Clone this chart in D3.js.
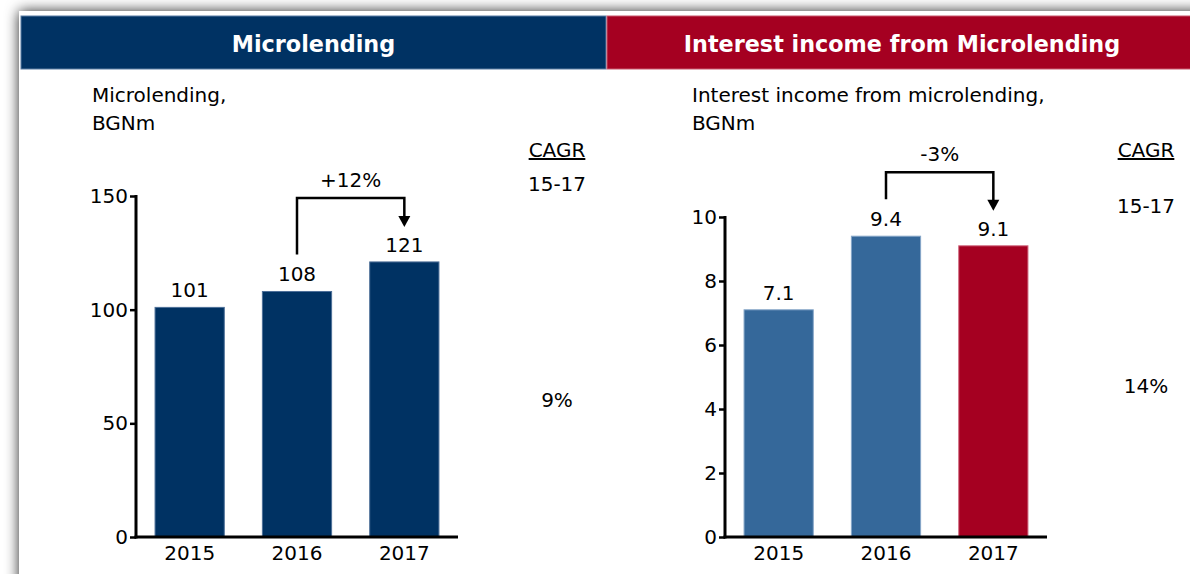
<!DOCTYPE html>
<html>
<head>
<meta charset="utf-8">
<script src="https://cdn.jsdelivr.net/npm/d3@7"></script>
<style>
  html, body { margin: 0; padding: 0; background: #ffffff; }
  svg { display: block; font-family: "DejaVu Sans", Verdana, sans-serif; }
</style>
</head>
<body>
<svg id="chart" width="1190" height="574"></svg>
<script>
// ---- data ----
const categories = ["2015", "2016", "2017"];
const microlending = [101, 108, 121];
const interestIncome = [7.1, 9.4, 9.1];
const microTicks = [0, 50, 100, 150];
const incomeTicks = [0, 2, 4, 6, 8, 10];
const panelTitles = ["Microlending", "Interest income from Microlending"];
const microSubtitle = ["Microlending,", "BGNm"];
const incomeSubtitle = ["Interest income from microlending,", "BGNm"];
const changeLabels = ["+12%", "-3%"];
const cagrHeader = "CAGR";
const cagrPeriod = "15-17";
const cagrValues = ["9%", "14%"];

// ---- colours ----
const darkBlue = "#003263";
const midBlue = "#35689a";
const red = "#a50021";

const svg = d3.select("#chart");
const defs = svg.append("defs");
const f = defs.append("filter").attr("id", "shadow")
  .attr("x", "-10%").attr("y", "-10%").attr("width", "120%").attr("height", "120%");
f.append("feDropShadow").attr("dx", 0).attr("dy", 0)
  .attr("stdDeviation", 7).attr("flood-color", "#000").attr("flood-opacity", 0.85);

// background frame with shadow
svg.append("rect").attr("x", 0).attr("y", 0).attr("width", 1190).attr("height", 574).attr("fill", "#fff");
svg.append("rect").attr("x", 19).attr("y", 11).attr("width", 1240).attr("height", 640)
  .attr("fill", "#fff").attr("filter", "url(#shadow)");

// header bars
const headers = [
  { x: 21, w: 585, color: darkBlue, stroke: "#5a7ca3", title: panelTitles[0] },
  { x: 607, w: 590, color: red, stroke: "#c8566c", title: panelTitles[1] }
];
headers.forEach(h => {
  svg.append("rect").attr("x", h.x).attr("y", 16).attr("width", h.w).attr("height", 53)
    .attr("fill", h.color).attr("stroke", h.stroke).attr("stroke-width", 1);
  svg.append("text").attr("x", h.x + h.w / 2).attr("y", 52)
    .attr("text-anchor", "middle").attr("fill", "#fff")
    .attr("font-weight", "bold").attr("font-size", 22.3).text(h.title);
});

function drawChart(cfg) {
  const g = svg.append("g");
  // subtitle
  cfg.subtitle.forEach((s, i) => {
    g.append("text").attr("x", cfg.subX).attr("y", 102 + i * 27.5)
      .attr("font-size", 20).attr("fill", "#000").text(s);
  });

  const x = d3.scaleBand().domain(categories).range([cfg.x0, cfg.x1])
    .paddingInner(0.355).paddingOuter(0.1775);
  const y = d3.scaleLinear().domain([0, cfg.max]).range([cfg.yBottom, cfg.yTop]);

  // bars
  g.selectAll("rect.bar").data(cfg.values).enter().append("rect")
    .attr("class", "bar")
    .attr("x", (d, i) => x(categories[i]))
    .attr("y", d => y(d))
    .attr("width", x.bandwidth())
    .attr("height", d => y(0) - y(d))
    .attr("fill", (d, i) => cfg.colors[i])
    .attr("stroke", (d, i) => cfg.strokes[i])
    .attr("stroke-width", 1);

  // value labels
  g.selectAll("text.val").data(cfg.values).enter().append("text")
    .attr("class", "val")
    .attr("x", (d, i) => x(categories[i]) + x.bandwidth() / 2)
    .attr("y", d => y(d) - 10)
    .attr("text-anchor", "middle").attr("font-size", 20).attr("fill", "#000")
    .text(d => cfg.fmt(d));

  // y axis
  const yAxis = d3.axisLeft(y).tickValues(cfg.ticks).tickSize(6).tickPadding(2)
    .tickFormat(d3.format("d"));
  const ya = g.append("g").attr("transform", `translate(${cfg.x0},0)`).call(yAxis);
  ya.select(".domain").remove();
  ya.selectAll(".tick line").attr("stroke", "#000").attr("stroke-width", 2.5);
  ya.selectAll(".tick text").attr("font-size", 20).attr("fill", "#000")
    .attr("font-family", "DejaVu Sans, Verdana, sans-serif");
  g.append("line").attr("x1", cfg.x0).attr("x2", cfg.x0)
    .attr("y1", cfg.yTop - 1).attr("y2", cfg.yBottom + 1.5)
    .attr("stroke", "#000").attr("stroke-width", 3);

  // x axis
  const xAxis = d3.axisBottom(x).tickSize(0).tickPadding(9);
  const xa = g.append("g").attr("transform", `translate(0,${cfg.yBottom})`).call(xAxis);
  xa.select(".domain").remove();
  xa.selectAll(".tick text").attr("font-size", 20).attr("fill", "#000")
    .attr("font-family", "DejaVu Sans, Verdana, sans-serif");
  g.append("line").attr("x1", cfg.x0 - 1.5).attr("x2", cfg.x1)
    .attr("y1", cfg.yBottom).attr("y2", cfg.yBottom)
    .attr("stroke", "#000").attr("stroke-width", 3);

  // change bracket 2016 -> 2017
  const xa1 = x(categories[1]) + x.bandwidth() / 2;
  const xa2 = x(categories[2]) + x.bandwidth() / 2;
  const yStart = y(cfg.values[1]) - 37;
  const yTopB = y(Math.max(cfg.values[1], cfg.values[2])) - 64;
  const yTip = y(cfg.values[2]) - 35;
  g.append("path")
    .attr("d", `M${xa1},${yStart} V${yTopB} H${xa2} V${yTip - 9}`)
    .attr("fill", "none").attr("stroke", "#000").attr("stroke-width", 2.5);
  g.append("path")
    .attr("d", `M${xa2 - 6},${yTip - 11} L${xa2 + 6},${yTip - 11} L${xa2},${yTip} Z`)
    .attr("fill", "#000");
  g.append("text").attr("x", (xa1 + xa2) / 2).attr("y", yTopB - 11)
    .attr("text-anchor", "middle").attr("font-size", 20).attr("fill", "#000")
    .text(cfg.change);

  // CAGR column
  g.append("text").attr("x", cfg.cagrX).attr("y", 157)
    .attr("text-anchor", "middle").attr("font-size", 20).attr("fill", "#000")
    .attr("text-decoration", "underline").text(cagrHeader);
  g.append("text").attr("x", cfg.cagrX).attr("y", cfg.periodY)
    .attr("text-anchor", "middle").attr("font-size", 20).attr("fill", "#000").text(cagrPeriod);
  g.append("text").attr("x", cfg.cagrX).attr("y", cfg.cagrY)
    .attr("text-anchor", "middle").attr("font-size", 20).attr("fill", "#000").text(cfg.cagr);
}

drawChart({
  values: microlending, ticks: microTicks, max: 150,
  x0: 136, x1: 458, yTop: 196, yBottom: 537,
  colors: [darkBlue, darkBlue, darkBlue],
  strokes: ["#4d6f98", "#4d6f98", "#4d6f98"],
  fmt: d3.format("d"),
  subtitle: microSubtitle, subX: 92,
  change: changeLabels[0],
  cagrX: 557, periodY: 191, cagrY: 407, cagr: cagrValues[0]
});

drawChart({
  values: interestIncome, ticks: incomeTicks, max: 10,
  x0: 725, x1: 1047, yTop: 217, yBottom: 537,
  colors: [midBlue, midBlue, red],
  strokes: ["#86a6c8", "#86a6c8", "#d06a80"],
  fmt: d3.format(".1f"),
  subtitle: incomeSubtitle, subX: 692,
  change: changeLabels[1],
  cagrX: 1146, periodY: 213, cagrY: 393, cagr: cagrValues[1]
});
</script>
</body>
</html>
